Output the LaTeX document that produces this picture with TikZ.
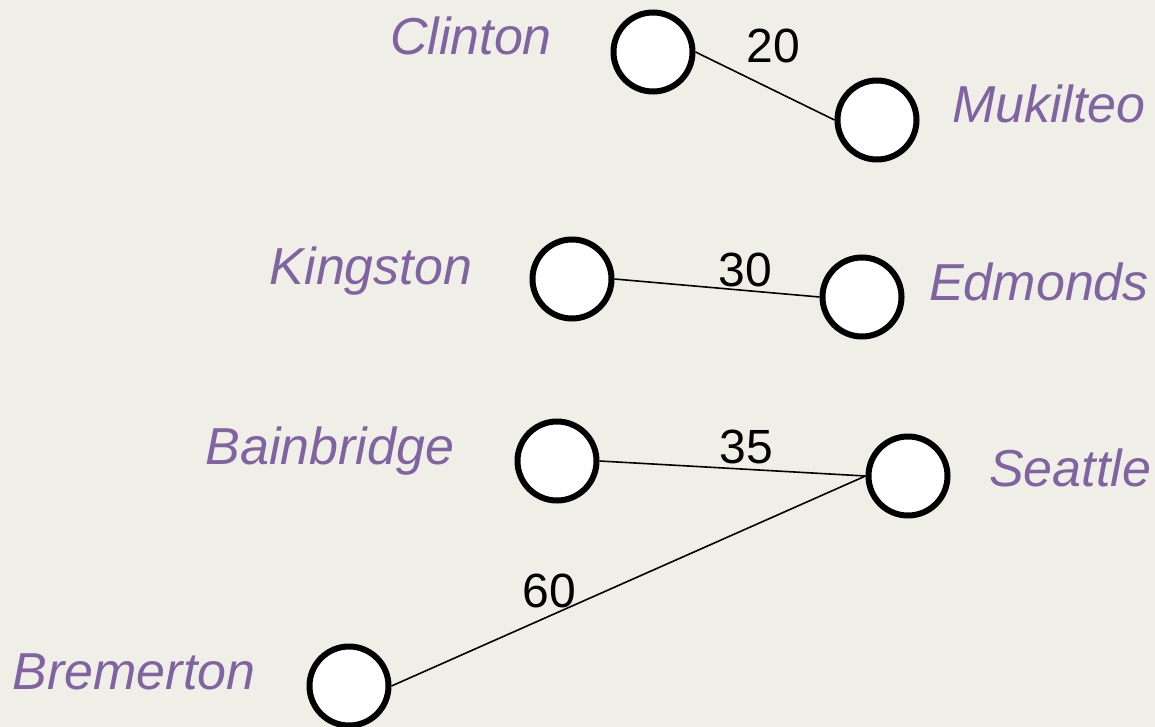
\documentclass[tikz,border=0pt]{standalone}
\usepackage{fontspec}
\setmainfont{Liberation Sans}
\usetikzlibrary{positioning}
\tikzset{>=stealth}
\definecolor{bgcream}{RGB}{240,239,231}
\definecolor{townpurple}{RGB}{128,100,162}
\tikzset{
  dock/.style={circle,draw=black,fill=white,line width=3pt,minimum size=39.5pt,inner sep=0pt},
  town/.style={anchor=base,text=townpurple,font=\fontsize{26}{30}\selectfont\itshape},
  fare/.style={anchor=base,font=\fontsize{24}{28}\selectfont},
  route/.style={line width=0.8pt}
}

\begin{document}
\begin{tikzpicture}[x=0.5pt,y=-0.5pt]
\fill[bgcream] (0,0) rectangle (1155,727);
\useasboundingbox (0,0) rectangle (1155,727);
\node[dock] (clinton) at (653,52) {};
\node[dock] (mukilteo) at (877,120) {};
\node[dock] (kingston) at (572,279) {};
\node[dock] (edmonds) at (862,297) {};
\node[dock] (bainbridge) at (557,461) {};
\node[dock] (seattle) at (908,476) {};
\node[dock] (bremerton) at (349,686) {};
\node[town] (clintonname) at (471,55) {Clinton};
\node[town] (mukilteoname) at (1049,123) {Mukilteo};
\node[town] (kingstonname) at (371,284) {Kingston};
\node[town] (edmondsname) at (1039,300) {Edmonds};
\node[town] (bainbridgename) at (330,464) {Bainbridge};
\node[town] (seattlename) at (1070,486) {Seattle};
\node[town] (bremertonname) at (134,689) {Bremerton};
\draw[route] (clinton.east) -- (mukilteo.west);
\draw[route] (kingston.east) -- (edmonds.west);
\draw[route] (bainbridge.east) -- (seattle.west);
\draw[route] (bremerton.east) -- (seattle.west);
\node[fare] (fareA) at (773,63) {20};
\node[fare] (fareB) at (745,286) {30};
\node[fare] (fareC) at (746,463) {35};
\node[fare] (fareD) at (549,607) {60};
\end{tikzpicture}
\end{document}
